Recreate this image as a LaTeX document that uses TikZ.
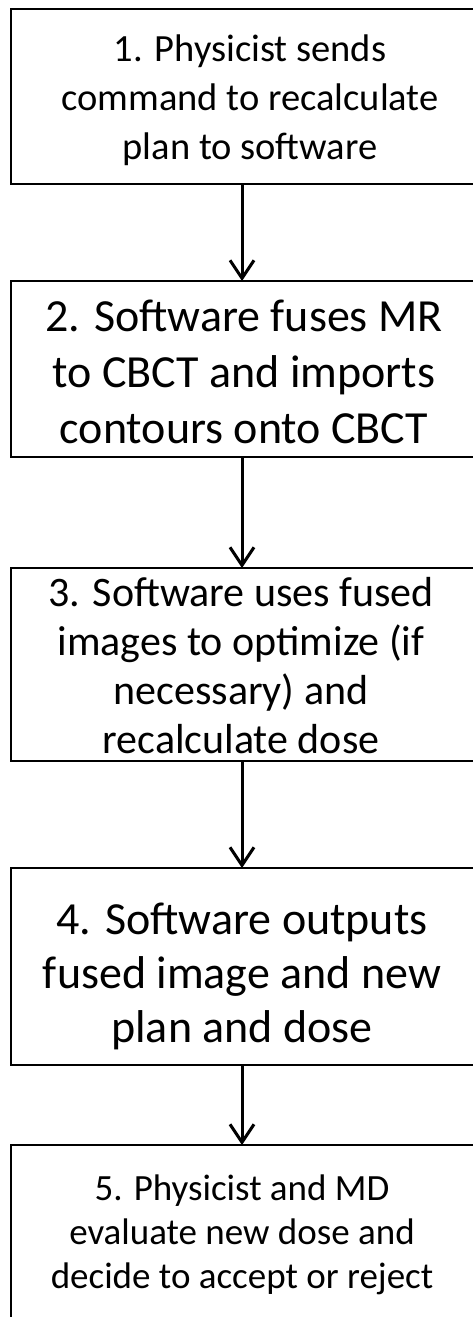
\documentclass[tikz,border=0pt]{standalone}
\usepackage{fontspec}
\setmainfont{Carlito}
\usetikzlibrary{arrows.meta}
\tikzset{
  x=1pt, y=-1pt,
  stepbox/.style={draw=black, line width=2.6pt, fill=none, outer sep=0pt,
    inner sep=0pt, minimum width=486pt, anchor=north west},
  steptext/.style={align=center, inner sep=0pt, anchor=base},
  flow/.style={line width=3pt, -{Straight Barb[length=18pt,width=24pt,line width=3pt]}}
}
\begin{document}
\begin{tikzpicture}
\useasboundingbox (0,0) rectangle (472,1317);
\fill[white] (0,0) rectangle (472,1317);

% boxes (the right side runs past the page edge, the last box past the bottom)
\node[stepbox, minimum height=175pt] (b1) at (11,9) {};
\node[stepbox, minimum height=176pt] (b2) at (11,281) {};
\node[stepbox, minimum height=193pt] (b3) at (11,568) {};
\node[stepbox, minimum height=197pt] (b4) at (11,868) {};
\node[stepbox, minimum height=220pt] (b5) at (11,1145) {};

% step texts, anchored on the baseline of their last line
\node[steptext, font=\fontsize{38.5}{49}\selectfont] (t1) at (250,159)
  {1. Physicist sends\\command to recalculate\\plan to software};
\node[steptext, font=\fontsize{46}{56}\selectfont] (t2) at (244,443)
  {2. Software fuses MR\\to CBCT and imports\\contours onto CBCT};
\node[steptext, font=\fontsize{42}{49}\selectfont] (t3) at (241,753)
  {3. Software uses fused\\images to optimize (if\\necessary) and\\recalculate dose};
\node[steptext, font=\fontsize{46}{54}\selectfont] (t4) at (242,1042)
  {4. Software outputs\\fused image and new\\plan and dose};
\node[steptext, font=\fontsize{37}{44}\selectfont] (t5) at (242,1288)
  {5. Physicist and MD\\evaluate new dose and\\decide to accept or reject};

% connectors
\coordinate (ax) at (242,0);
\draw[flow] (b1.south -| ax) -- (b2.north -| ax);
\draw[flow] (b2.south -| ax) -- (b3.north -| ax);
\draw[flow] (b3.south -| ax) -- (b4.north -| ax);
\draw[flow] (b4.south -| ax) -- (b5.north -| ax);
\end{tikzpicture}
\end{document}
